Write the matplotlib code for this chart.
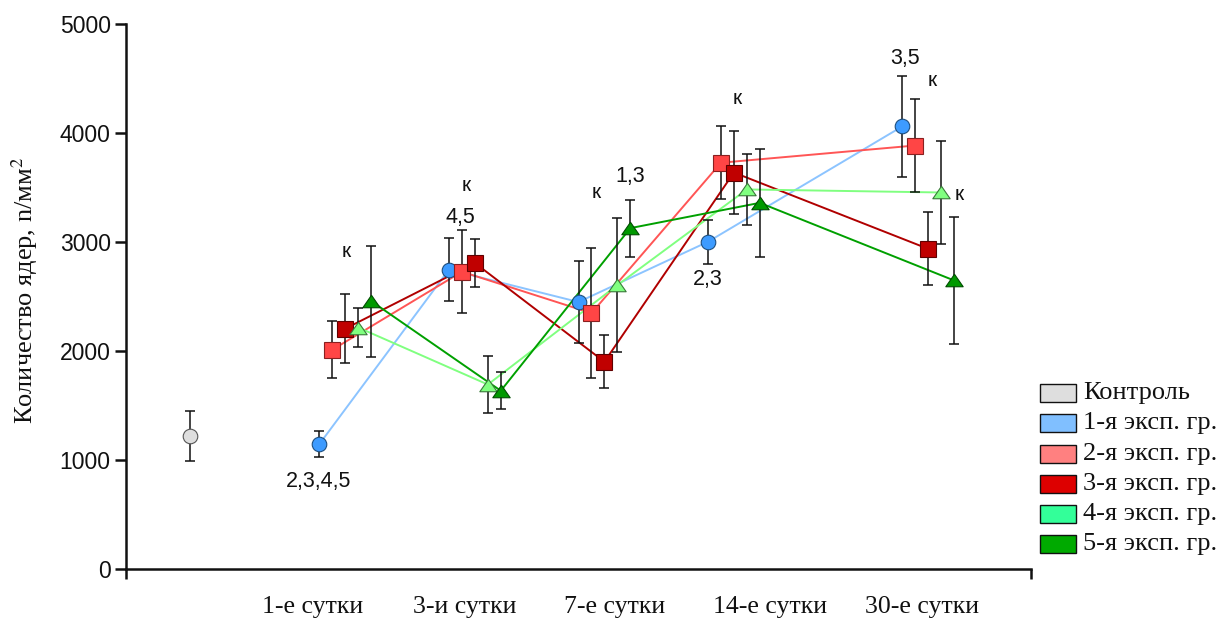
import matplotlib
matplotlib.use("Agg")
import matplotlib.pyplot as plt
from matplotlib.patches import Rectangle

# ---------------- data ----------------
categories = ['1-е сутки', '3-и сутки', '7-е сутки', '14-е сутки', '30-е сутки']
cat_x = [1, 2, 3, 4, 5.5]
label_x = [0.95, 2.12, 3.28, 4.48, 5.65]

control_x = 0
control_mean = 1220
control_err = 230

g1_mean = [1150, 2750, 2452, 3005, 4063]
g1_err = [120, 290, 375, 200, 462]
g2_mean = [2015, 2730, 2350, 3730, 3888]
g2_err = [262, 382, 598, 337, 424]
g3_mean = [2208, 2810, 1904, 3640, 2940]
g3_err = [315, 218, 243, 383, 335]
g4_mean = [2218, 1695, 2607, 3485, 3457]
g4_err = [176, 265, 613, 325, 473]
g5_mean = [2460, 1638, 3130, 3362, 2650]
g5_err = [508, 170, 262, 494, 585]

legend_labels = ['Контроль', '1-я эксп. гр.', '2-я эксп. гр.', '3-я эксп. гр.',
                 '4-я эксп. гр.', '5-я эксп. гр.']
legend_colors = ['#dedede', '#80bfff', '#ff8080', '#dd0000', '#33ff99', '#00aa00']

annot_text = ['2,3,4,5', 'к', '4,5', 'к', 'к', '1,3', '2,3', 'к', '3,5', 'к', 'к']
annot_x = [0.99, 1.205, 2.09, 2.13, 3.14, 3.40, 3.995, 4.226, 5.52, 5.73, 5.94]
annot_y = [810, 2920, 3223, 3517, 3461, 3602, 2661, 4321, 4688, 4483, 3440]

# ---------------- style ----------------
offsets = [0.0, 0.1, 0.2, 0.3, 0.4]
line_colors = ['#8cc4ff', '#ff5555', '#b00000', '#80ff80', '#00a000']
face_colors = ['#3d9bff', '#ff4545', '#c00000', '#80ff80', '#009900']
edge_colors = ['#1d4f80', '#8a2020', '#600000', '#3a7a3a', '#004d00']
tri = [(0, 0.72), (-1, -0.72), (1, -0.72), (0, 0.72)]
markers = ['o', 's', 's', tri, tri]
msizes = [10.5, 11, 11, 12.5, 12.5]

means = [g1_mean, g2_mean, g3_mean, g4_mean, g5_mean]
errs = [g1_err, g2_err, g3_err, g4_err, g5_err]

plt.rcParams['mathtext.fontset'] = 'stix'

W, H = 1222, 619
fig = plt.figure(figsize=(W / 100, H / 100), dpi=100)
y0_px, y5_px = 569.3, 24.3
ax = fig.add_axes([126 / W, (H - y0_px) / H, (1031 - 126) / W, (y0_px - y5_px) / H])
ax.set_xlim(-0.494, 6.494)
ax.set_ylim(0, 5000)

for s in ['top', 'right']:
    ax.spines[s].set_visible(False)
for s in ['left', 'bottom']:
    ax.spines[s].set_linewidth(1.8)
    ax.spines[s].set_color('#111111')

ax.set_yticks([0, 1000, 2000, 3000, 4000, 5000])
ax.tick_params(axis='y', direction='out', length=8, width=1.8, pad=3,
               labelsize=16.5, colors='#111111')
for t in ax.get_yticklabels():
    t.set_fontfamily('Liberation Sans')
ax.set_xticks([-0.494, 6.494])
ax.set_xticklabels(['', ''])
ax.tick_params(axis='x', direction='out', length=7, width=1.8, colors='#111111')

# lines
for i in range(5):
    xs = [c + offsets[i] for c in cat_x]
    ax.plot(xs, means[i], '-', color=line_colors[i], lw=1.4, zorder=2)

# error bars + markers
ax.errorbar([control_x], [control_mean], yerr=[control_err], fmt='none',
            ecolor='#111111', elinewidth=1.1, capsize=3.8, capthick=1.1, zorder=3)
ax.plot([control_x], [control_mean], 'o', ms=10.5, mfc='#dedede', mec='#555555',
        mew=0.8, zorder=4)
for i in range(5):
    xs = [c + offsets[i] for c in cat_x]
    ax.errorbar(xs, means[i], yerr=errs[i], fmt='none', ecolor='#111111',
                elinewidth=1.1, capsize=3.8, capthick=1.1, zorder=3)
    ax.plot(xs, means[i], linestyle='none', marker=markers[i], ms=msizes[i],
            mfc=face_colors[i], mec=edge_colors[i], mew=0.8, zorder=4)

# annotations
for t, x, y in zip(annot_text, annot_x, annot_y):
    ax.text(x, y, t, ha='center', va='center',
            fontsize=15 if t == 'к' else 15.5, family='Liberation Sans',
            color='#111111', zorder=5)

# category labels
for t, x in zip(categories, label_x):
    ax.text(x, -346, t, ha='center', va='center', fontsize=18.5,
            family='Liberation Serif', clip_on=False, color='#111111')

# y label
fig.text(25 / W, (H - 290) / H, 'Количество ядер, n/мм$^2$', rotation=90,
         ha='center', va='center', fontsize=19, family='Liberation Serif',
         color='#111111')

# legend (manual)
leg_y = [393, 423, 454, 484, 514, 544]
for lab, col, yp in zip(legend_labels, legend_colors, leg_y):
    fig.patches.append(Rectangle((1040 / W, (H - yp - 9) / H), 36 / W, 18 / H,
                                 transform=fig.transFigure, facecolor=col,
                                 edgecolor='#111111', lw=1.0))
    fig.text(1083 / W, (H - yp) / H, lab, ha='left', va='center', fontsize=19,
             family='Liberation Serif', color='#111111')

fig.savefig('out.png', dpi=100)
